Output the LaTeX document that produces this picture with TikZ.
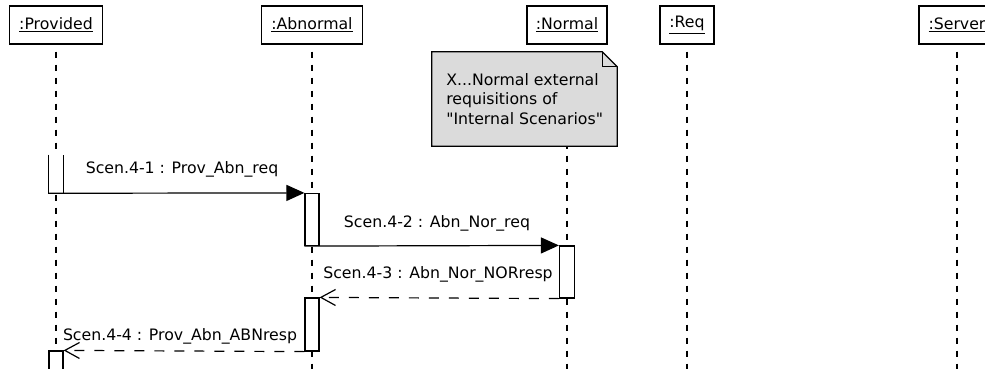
\documentclass[tikz,border=0pt]{standalone}
\usepackage{fontspec}
\setmainfont{DejaVu Sans}[Ligatures=TeXOff]
\usetikzlibrary{arrows.meta}
\newdimen\pxu \pxu=0.75pt
\begin{document}
\begin{tikzpicture}[x=0.75pt, y=-0.75pt,
  font=\fontsize{11.8}{14}\selectfont,
  head/.style={draw, line width=1pt, minimum height=38\pxu, inner sep=0pt, fill=white},
  lifeline/.style={line width=0.9pt, dash pattern=on 6\pxu off 7\pxu, dash phase=6\pxu},
  actbox/.style={fill=white, minimum width=14\pxu, inner sep=0pt},
  actline/.style={line width=0.9pt},
  call/.style={line width=0.9pt, -{Triangle[length=13.5pt,width=12pt]}},
  reply/.style={line width=0.9pt, dash pattern=on 10\pxu off 10\pxu,
                -{Straight Barb[length=11pt,width=12pt,line width=0.9pt]}},
  msg/.style={anchor=base, inner sep=0pt},
  notebox/.style={minimum width=185\pxu, minimum height=94\pxu, inner sep=0pt}]
\useasboundingbox (0,0) rectangle (985,368);
\clip (0,0) rectangle (985,368);
\coordinate (bot) at (0,372);

% object headers
\node[head, minimum width=93\pxu]  (prov) at (56,25)  {\underline{:Provided}};
\node[head, minimum width=101\pxu] (abn)  at (312,25) {\underline{:Abnormal}};
\node[head, minimum width=80\pxu]  (nor)  at (567,25) {\underline{:Normal}};
\node[head, minimum width=54\pxu]  (req)  at (687,25) {\underline{:Req}};
\node[head, minimum width=76\pxu]  (srv)  at (957,25) {\underline{:Server}};

% lifelines
\foreach \o in {prov,abn,nor,req,srv}
  \draw[lifeline] (\o.south) -- (\o.south |- bot);

% note attached above the Normal lifeline
\node[notebox] (note) at (524.5,99) {};
\draw[line width=1pt, fill=black!14]
  (note.north west) -- ([xshift=-15\pxu]note.north east)
  -- ([yshift=-15\pxu]note.north east) -- (note.south east)
  -- (note.south west) -- cycle;
\draw[line width=0.8pt]
  ([xshift=-15\pxu]note.north east) -- ([xshift=-15\pxu,yshift=-15\pxu]note.north east)
  -- ([yshift=-15\pxu]note.north east);
\node[anchor=north west, align=left, inner sep=0pt,
      font=\fontsize{11.8}{14.6}\selectfont] (notetext) at (446,73)
  {X...Normal external\\requisitions of\\"Internal Scenarios"};

% activation bars
\node[actbox, minimum height=38\pxu] (pa1) at (56,174) {};
\draw[actline] (pa1.north west) -- (pa1.south west) -- (pa1.south east) -- (pa1.north east);
\node[actbox, minimum height=52\pxu, draw, actline] (aa1) at (312,219.5) {};
\node[actbox, minimum height=52\pxu, minimum width=15\pxu, draw, actline] (na1) at (567,272) {};
\node[actbox, minimum height=53\pxu, draw, actline] (aa2) at (312,324.5) {};
\node[actbox, minimum height=40\pxu, draw, actline] (pa2) at (56,371) {};

% messages
\draw[call] (pa1.south west) -- (aa1.north west);
\node[msg] (l1) at (182,173) {Scen.4-1 : Prov\_Abn\_req};
\draw[call] (aa1.south west) -- (na1.north west);
\node[msg] (l2) at (437,227) {Scen.4-2 : Abn\_Nor\_req};
\draw[reply] (na1.south west) -- (aa2.north east);
\node[msg] (l3) at (438,278) {Scen.4-3 : Abn\_Nor\_NORresp};
\draw[reply] (aa2.south west) -- (pa2.north east);
\node[msg] (l4) at (180,340) {Scen.4-4 : Prov\_Abn\_ABNresp};
\end{tikzpicture}
\end{document}
